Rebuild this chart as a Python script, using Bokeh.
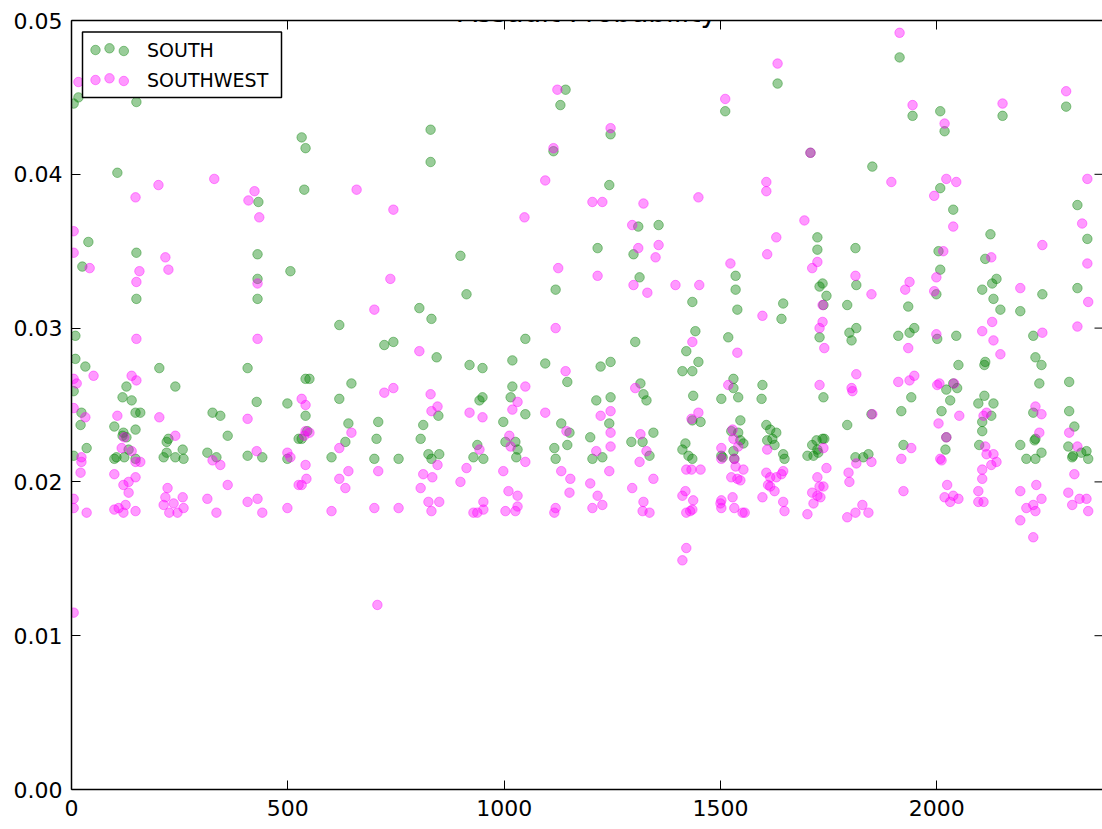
from bokeh.plotting import figure
from bokeh.models import Range1d, LinearAxis, FixedTicker, Label
from bokeh.embed import file_html
from bokeh.resources import INLINE

title_text = "Assault Probability"
series_names = ["SOUTH", "SOUTHWEST"]
series_colors = ["green", "magenta"]

x_ticks = [0, 500, 1000, 1500, 2000]
x_tick_labels = ["0", "500", "1000", "1500", "2000"]
y_ticks = [0.0, 0.01, 0.02, 0.03, 0.04, 0.05]
y_tick_labels = ["0.00", "0.01", "0.02", "0.03", "0.04", "0.05"]

south_x = [5, 16, 150, 106, 9, 9, 32, 39, 25, 532, 541, 538, 432, 150, 150, 430, 430, 430, 506, 203, 407,
           5, 127, 240, 118, 139, 428, 499, 23, 21, 148, 159, 326, 344, 99, 148, 120, 127, 118, 224, 220, 361,
           35, 5, 99, 104, 122, 148, 213, 220, 240, 257, 259, 314, 335, 407, 441, 499, 525, 132,
           830, 830, 1114, 1130, 1142, 899, 1119, 913, 804, 832, 619, 1049, 723, 744, 844, 920, 950, 1019, 1095,
           1146, 541, 550, 647, 1019, 619, 848, 943, 950, 1015, 1049, 541, 640, 709, 813, 998, 1132, 1151, 545,
           532, 633, 705, 807, 938, 1003, 1026, 1031, 1028, 1116, 1146, 601, 700, 756, 825, 832, 850, 929, 952, 1119,
           1632, 1511, 1246, 1708, 1243, 1310, 1357, 1724, 1724, 1812, 1216, 1299, 1535, 1313, 1535, 1814, 1736,
           1729, 1745, 1738, 1793, 1435, 1539, 1645, 1641, 1729, 1798, 1814, 1803, 1442, 1421, 1449, 1303, 1518,
           1246, 1223,
           1412, 1435, 1315, 1322, 1329, 1213, 1246, 1243, 1437, 1435, 1454, 1530, 1530, 1541, 1502, 1597, 1595,
           1738, 1793, 1546, 1199, 1204, 1227, 1294, 1320, 1345, 1336, 1419, 1412, 1426, 1435, 1525, 1541, 1546,
           1553, 1502, 1505, 1530, 1532, 1606, 1615, 1629, 1608, 1620, 1625, 1645, 1648, 1712, 1722, 1736, 1740,
           1724, 1701, 1715, 1726, 1812,
           1914, 1944, 2008, 2018, 2152, 2299, 1851, 2008, 2038, 2325, 2348, 2325, 2124, 2112, 2138, 2128, 2105,
           2131, 2147, 2193, 2244, 2004, 2008, 1999, 1934, 1911, 1937, 1948, 2001, 2045, 2223, 2228, 2242, 2050,
           2112, 2110,
           2237, 2306, 2022, 2038, 2047, 1941, 1918, 2031, 2011, 2110, 2096, 2131, 2126, 2105, 2105, 2223, 2228,
           2226, 2306, 2318, 1849, 1923, 2022, 2020, 2098, 2193, 2242, 2228, 2207, 2304, 2313, 2315, 2334, 2346,
           2350, 1830, 1842]
south_y = [0.0446, 0.0450, 0.0447, 0.0401, 0.0295, 0.0280, 0.0275, 0.0356, 0.0340, 0.0424, 0.0417, 0.0390,
           0.0382, 0.0349, 0.0319, 0.0348, 0.0332, 0.0319, 0.0337, 0.0274, 0.0274,
           0.0259, 0.0262, 0.0262, 0.0255, 0.0253, 0.0252, 0.0251, 0.0245, 0.0237, 0.0245, 0.0245, 0.0245, 0.0243,
           0.0236, 0.0234, 0.0232, 0.0229, 0.0230, 0.0228, 0.0226, 0.0230,
           0.0222, 0.0217, 0.0215, 0.0216, 0.0216, 0.0215, 0.0216, 0.0219, 0.0216, 0.0221, 0.0215, 0.0219, 0.0216,
           0.0217, 0.0216, 0.0215, 0.0228, 0.0221,
           0.0429, 0.0408, 0.0415, 0.0445, 0.0455, 0.0347, 0.0325, 0.0322, 0.0313, 0.0306, 0.0302, 0.0293, 0.0289,
           0.0291, 0.0281, 0.0276, 0.0274, 0.0279, 0.0277,
           0.0265, 0.0267, 0.0267, 0.0264, 0.0262, 0.0254, 0.0243, 0.0253, 0.0255, 0.0255, 0.0244, 0.0243, 0.0238,
           0.0239, 0.0237, 0.0239, 0.0238, 0.0232, 0.0233,
           0.0228, 0.0226, 0.0228, 0.0228, 0.0224, 0.0226, 0.0226, 0.0221, 0.0216, 0.0222, 0.0224, 0.0216, 0.0215,
           0.0215, 0.0218, 0.0215, 0.0218, 0.0216, 0.0215, 0.0215,
           0.0459, 0.0441, 0.0426, 0.0414, 0.0393, 0.0366, 0.0367, 0.0359, 0.0351, 0.0352, 0.0352, 0.0348, 0.0334,
           0.0333, 0.0325, 0.0328, 0.0329, 0.0327, 0.0321, 0.0315, 0.0315, 0.0317, 0.0312, 0.0316, 0.0306, 0.0294,
           0.0297, 0.0300, 0.0292, 0.0298, 0.0285, 0.0278, 0.0291, 0.0294, 0.0278, 0.0275,
           0.0272, 0.0272, 0.0264, 0.0257, 0.0253, 0.0253, 0.0255, 0.0238, 0.0256, 0.0240, 0.0239, 0.0267, 0.0261,
           0.0255, 0.0254, 0.0263, 0.0254, 0.0255, 0.0237, 0.0240, 0.0229, 0.0215, 0.0216, 0.0226, 0.0226, 0.0232,
           0.0217, 0.0225, 0.0221, 0.0217, 0.0215, 0.0233, 0.0232, 0.0227, 0.0225, 0.0217, 0.0216, 0.0220, 0.0215,
           0.0237, 0.0234, 0.0232, 0.0227, 0.0228, 0.0224, 0.0218, 0.0215, 0.0224, 0.0227, 0.0228, 0.0228, 0.0221,
           0.0217, 0.0217, 0.0219, 0.0216,
           0.0476, 0.0438, 0.0441, 0.0428, 0.0438, 0.0444, 0.0405, 0.0391, 0.0377, 0.0380, 0.0358, 0.0326, 0.0361,
           0.0345, 0.0332, 0.0329, 0.0325, 0.0319, 0.0312, 0.0311, 0.0322, 0.0350, 0.0338, 0.0322, 0.0314, 0.0295,
           0.0297, 0.0300, 0.0293, 0.0295, 0.0295, 0.0281, 0.0276, 0.0276, 0.0278, 0.0276,
           0.0264, 0.0265, 0.0260, 0.0264, 0.0261, 0.0255, 0.0246, 0.0253, 0.0246, 0.0256, 0.0251, 0.0251, 0.0243,
           0.0239, 0.0233, 0.0245, 0.0228, 0.0227, 0.0246, 0.0236, 0.0244, 0.0224, 0.0229, 0.0221, 0.0224, 0.0224,
           0.0219, 0.0215, 0.0215, 0.0223, 0.0216, 0.0217, 0.0219, 0.0220, 0.0215, 0.0216, 0.0218]

southwest_x = [16, 5, 5, 42, 148, 201, 330, 423, 409, 659, 434, 217, 157, 224, 150, 430, 150, 430,
               51, 5, 12, 139, 150, 5, 32, 106, 203, 407, 122, 240, 116, 139, 23, 159, 148, 326, 344, 428, 499,
               506, 23, 21, 99, 148, 132, 120, 132, 222, 361, 525, 5, 5, 35, 99, 109, 120, 125, 148, 217, 213,
               226, 245, 236, 257, 259, 314, 335, 407, 430, 441, 499, 5, 707,
               1123, 1114, 744, 1095, 1047, 737, 1125, 700, 1119, 804, 1142, 723, 744, 830, 1049, 532, 541, 846,
               832, 1031, 1019, 920, 950, 1095, 1144, 541, 550, 538, 647, 619, 943, 1012, 1015, 541, 640, 709,
               846, 913, 1049, 998, 1132, 1153, 813, 834, 543, 532, 619, 633, 807, 899, 1010, 1031, 1151, 601,
               700, 756, 825, 850, 832, 952, 929, 938, 952, 1003, 1026, 1031, 1119, 1116,
               1632, 1511, 1246, 1708, 1204, 1227, 1322, 1449, 1606, 1606, 1694, 1296, 1629, 1310, 1357, 1350,
               1608, 1724, 1712, 1216, 1523, 1299, 1396, 1451, 1331, 1812, 1736, 1597, 1736, 1729, 1740, 1435,
               1539,
               1303, 1246, 1223, 1449, 1433, 1518, 1729, 1814, 1803, 1805, 1246, 1246, 1213, 1315, 1329, 1313,
               1433, 1454, 1421, 1528, 1530, 1502, 1502, 1541, 1532, 1535, 1553, 1525, 1539, 1546, 1608, 1606,
               1615, 1629, 1641, 1645, 1615, 1610, 1625, 1597, 1645, 1648, 1738, 1745, 1724, 1729, 1738, 1712,
               1724, 1731, 1715, 1701, 1814, 1796, 1798, 1793, 1412, 1419, 1437, 1435, 1421, 1430, 1421, 1412,
               1502, 1502, 1500, 1528, 1532, 1551, 1556, 1320, 1336, 1322, 1296, 1345, 1199, 1216, 1204, 1227,
               1243,
               1914, 1944, 2018, 2152, 2299, 1895, 2022, 2045, 1994, 2038, 2348, 2336, 2348, 2350, 2325, 2126,
               2193, 2244, 2015, 1999, 1994, 1937, 1927, 1849, 1934, 1999, 2105, 2128, 2131, 2147, 2244,
               1911, 1937, 1948, 2001, 2006, 2040, 2052, 2004, 2115, 2108, 2228, 2242, 2237, 2306, 1851, 1941,
               1918, 2022, 2008, 2011, 2112, 2115, 2131, 2138, 2126, 2105, 2105, 2325, 2318, 1849, 1923, 2024,
               2018, 2031, 2038, 2050, 2096, 2096, 2108, 2193, 2230, 2242, 2223, 2207, 2228, 2193, 2223, 2304,
               2330, 2346, 2313, 2350, 1828, 1812, 1842]
southwest_y = [0.0460, 0.0363, 0.0349, 0.0339, 0.0385, 0.0393, 0.0397, 0.0389, 0.0383, 0.0390, 0.0372, 0.0346,
               0.0337, 0.0338, 0.0330, 0.0329, 0.0293, 0.0293,
               0.0269, 0.0267, 0.0264, 0.0269, 0.0266, 0.0248, 0.0242, 0.0243, 0.0242, 0.0241, 0.0229, 0.0230,
               0.0222, 0.0220, 0.0216, 0.0213, 0.0213, 0.0214, 0.0211, 0.0220, 0.0219, 0.0216, 0.0213, 0.0206,
               0.0205, 0.0203, 0.0200, 0.0198, 0.0193, 0.0196, 0.0198, 0.0198, 0.0189, 0.0183, 0.0180, 0.0182,
               0.0183, 0.0180, 0.0185, 0.0181, 0.0190, 0.0185, 0.0180, 0.0180, 0.0186, 0.0190, 0.0183, 0.0189,
               0.0180, 0.0187, 0.0189, 0.0180, 0.0183, 0.0115, 0.0120,
               0.0455, 0.0417, 0.0377, 0.0396, 0.0372, 0.0332, 0.0339, 0.0312, 0.0300, 0.0285, 0.0272, 0.0258,
               0.0261, 0.0257, 0.0262, 0.0254, 0.0250, 0.0249, 0.0246, 0.0252, 0.0247, 0.0245, 0.0242, 0.0245,
               0.0233, 0.0233, 0.0232, 0.0230, 0.0232, 0.0222, 0.0221, 0.0230, 0.0223, 0.0211, 0.0207, 0.0207,
               0.0211, 0.0209, 0.0213, 0.0207, 0.0207, 0.0202, 0.0205, 0.0203, 0.0202, 0.0198, 0.0202, 0.0196,
               0.0196, 0.0200, 0.0194, 0.0191, 0.0193, 0.0181, 0.0183, 0.0183, 0.0187, 0.0187, 0.0181, 0.0187,
               0.0180, 0.0180, 0.0182, 0.0181, 0.0181, 0.0184, 0.0183, 0.0180,
               0.0472, 0.0449, 0.0430, 0.0414, 0.0382, 0.0382, 0.0381, 0.0385, 0.0395, 0.0389, 0.0370, 0.0367,
               0.0359, 0.0352, 0.0354, 0.0346, 0.0348, 0.0343, 0.0339, 0.0334, 0.0342, 0.0328, 0.0328, 0.0328,
               0.0323, 0.0334, 0.0315, 0.0308, 0.0304, 0.0300, 0.0287, 0.0291, 0.0284,
               0.0261, 0.0246, 0.0243, 0.0245, 0.0241, 0.0263, 0.0263, 0.0270, 0.0261, 0.0259, 0.0232, 0.0223,
               0.0220, 0.0231, 0.0220, 0.0213, 0.0208, 0.0208, 0.0208, 0.0234, 0.0228, 0.0222, 0.0215, 0.0223,
               0.0215, 0.0210, 0.0208, 0.0203, 0.0202, 0.0201, 0.0221, 0.0206, 0.0203, 0.0203, 0.0205, 0.0207,
               0.0197, 0.0198, 0.0194, 0.0190, 0.0187, 0.0181, 0.0222, 0.0209, 0.0203, 0.0197, 0.0197, 0.0193,
               0.0191, 0.0190, 0.0186, 0.0179, 0.0212, 0.0206, 0.0200, 0.0177, 0.0191, 0.0194, 0.0188, 0.0182,
               0.0180, 0.0181, 0.0157, 0.0149, 0.0188, 0.0183, 0.0186, 0.0190, 0.0183, 0.0180, 0.0180, 0.0181,
               0.0180, 0.0187, 0.0196, 0.0202, 0.0199, 0.0191, 0.0183, 0.0185, 0.0207,
               0.0492, 0.0445, 0.0433, 0.0446, 0.0454, 0.0395, 0.0397, 0.0395, 0.0386, 0.0366, 0.0397, 0.0368,
               0.0342, 0.0317, 0.0301, 0.0346, 0.0326, 0.0354, 0.0350, 0.0333, 0.0324, 0.0330, 0.0325, 0.0322,
               0.0287, 0.0296, 0.0298, 0.0304, 0.0292, 0.0283, 0.0297,
               0.0265, 0.0266, 0.0269, 0.0263, 0.0264, 0.0264, 0.0243, 0.0238, 0.0245, 0.0243, 0.0249, 0.0244,
               0.0232, 0.0232, 0.0244, 0.0222, 0.0215, 0.0229, 0.0215, 0.0214, 0.0223, 0.0218, 0.0218, 0.0213,
               0.0211, 0.0208, 0.0202, 0.0223, 0.0205, 0.0213, 0.0194, 0.0198, 0.0190, 0.0187, 0.0191, 0.0189,
               0.0194, 0.0187, 0.0187, 0.0194, 0.0198, 0.0189, 0.0185, 0.0183, 0.0181, 0.0175, 0.0164, 0.0193,
               0.0189, 0.0189, 0.0185, 0.0181, 0.0185, 0.0180, 0.0180]

FONT = "DejaVu Sans"
W, H = 1102, 829
LEFT, TOP, BOTTOM = 71, 20, 40

p = figure(width=W, height=H, output_backend="svg", toolbar_location=None,
           x_range=Range1d(0, 2383), y_range=Range1d(0, 0.05),
           min_border_left=LEFT, min_border_right=0, min_border_top=TOP, min_border_bottom=BOTTOM,
           background_fill_color="white", border_fill_color="white")
p.outline_line_color = None
p.xgrid.visible = False
p.ygrid.visible = False

fw = W - LEFT
fh = H - TOP - BOTTOM
p.extra_x_ranges = {"px": Range1d(0, fw)}
p.extra_y_ranges = {"px": Range1d(0, fh)}

def style_axis(ax, standoff):
    ax.axis_line_color = "black"
    ax.axis_line_width = 1.5
    ax.major_tick_line_color = "black"
    ax.major_tick_line_width = 1
    ax.major_tick_in = 9
    ax.major_tick_out = 0
    ax.minor_tick_line_color = None
    ax.major_label_text_font = FONT
    ax.major_label_text_font_size = "22px"
    ax.major_label_text_color = "black"
    ax.major_label_standoff = standoff

p.xaxis.ticker = FixedTicker(ticks=x_ticks)
p.xaxis.major_label_overrides = dict(zip(x_ticks, x_tick_labels))
p.yaxis.ticker = FixedTicker(ticks=y_ticks)
p.yaxis.major_label_overrides = dict(zip(y_ticks, y_tick_labels))
style_axis(p.xaxis[0], 10)
style_axis(p.yaxis[0], 9)

top_axis = LinearAxis(ticker=FixedTicker(ticks=x_ticks), major_label_overrides={t: "" for t in x_ticks})
style_axis(top_axis, 0)
top_axis.major_label_text_font_size = "1px"
p.add_layout(top_axis, "above")

for xs, ys, c in [(south_x, south_y, series_colors[0]), (southwest_x, southwest_y, series_colors[1])]:
    p.scatter(xs, ys, size=9.5, fill_color=c, fill_alpha=0.4, line_color=c, line_alpha=0.4, line_width=1)

# inward ticks of the (off-picture) right spine
p.segment(x0=[fw - 8] * len(y_ticks), x1=[fw] * len(y_ticks), y0=y_ticks, y1=y_ticks,
          x_range_name="px", line_color="black", line_width=1)

# legend (matplotlib style, three markers per entry)
lx0, ly_top = 82 - LEFT, fh - (31.5 - TOP)
lw, lh = 199, 65.5
p.quad(left=[lx0], right=[lx0 + lw], top=[ly_top], bottom=[ly_top - lh],
       x_range_name="px", y_range_name="px", fill_color="white", line_color="black", line_width=1.5)
marker_dx = [13, 27, 41.3]
marker_dy = [-0.5, 1.2, -1.5]
rows = [ly_top - 17.5, ly_top - 47.5]
for name, c, ry in zip(series_names, series_colors, rows):
    p.scatter([lx0 + d for d in marker_dx], [ry + d for d in marker_dy], size=9.5,
              fill_color=c, fill_alpha=0.4, line_color=c, line_alpha=0.4, line_width=1,
              x_range_name="px", y_range_name="px")
    p.add_layout(Label(x=lx0 + 64.5, y=ry, text=name, x_range_name="px", y_range_name="px",
                       text_font=FONT, text_font_size="19px", text_color="black",
                       text_baseline="middle", text_align="left"))

p.add_layout(Label(x=(fw + 1) / 2, y=fh + TOP - 12, text=title_text, x_range_name="px", y_range_name="px",
                   text_font=FONT, text_font_size="28px", text_color="black", level="overlay",
                   text_align="center", text_baseline="alphabetic"))

open("out.html", "w").write(file_html(p, INLINE))
